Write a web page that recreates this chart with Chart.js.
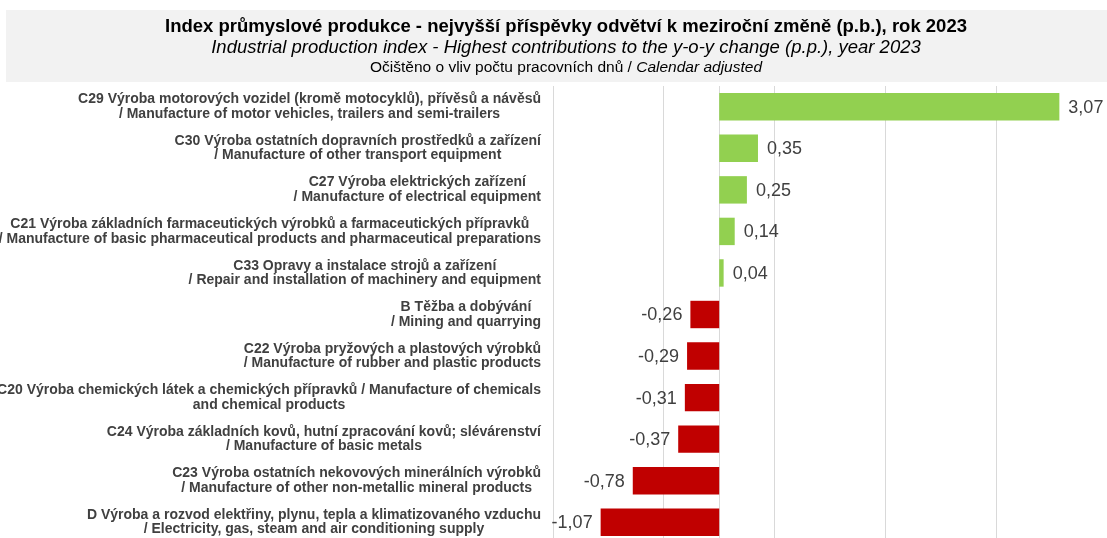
<!DOCTYPE html>
<html>
<head>
<meta charset="utf-8">
<script src="https://cdn.jsdelivr.net/npm/chart.js@4"></script>
<style>
  html, body { margin: 0; padding: 0; background: #fff; overflow: hidden; }
  canvas { display: block; }
</style>
</head>
<body>
<canvas id="myChart" width="1107" height="543"></canvas>
<script>
// categories (two text lines each), top to bottom
const categories = [
  ["C29 Výroba motorových vozidel (kromě motocyklů), přívěsů a návěsů", "/ Manufacture of motor vehicles, trailers and semi-trailers"],
  ["C30 Výroba ostatních dopravních prostředků a zařízení", "/ Manufacture of other transport equipment"],
  ["C27 Výroba elektrických zařízení", "/ Manufacture of electrical equipment"],
  ["C21 Výroba základních farmaceutických výrobků a farmaceutických přípravků", "/ Manufacture of basic pharmaceutical products and pharmaceutical preparations"],
  ["C33 Opravy a instalace strojů a zařízení", "/ Repair and installation of machinery and equipment"],
  ["B Těžba a dobývání", "/ Mining and quarrying"],
  ["C22 Výroba pryžových a plastových výrobků", "/ Manufacture of rubber and plastic products"],
  ["C20 Výroba chemických látek a chemických přípravků / Manufacture of chemicals", "and chemical products"],
  ["C24 Výroba základních kovů, hutní zpracování kovů; slévárenství", "/ Manufacture of basic metals"],
  ["C23 Výroba ostatních nekovových minerálních výrobků", "/ Manufacture of other non-metallic mineral products"],
  ["D Výroba a rozvod elektřiny, plynu, tepla a klimatizovaného vzduchu", "/ Electricity, gas, steam and air conditioning supply"]
]
const values = [3.07, 0.35, 0.25, 0.14, 0.04, -0.26, -0.29, -0.31, -0.37, -0.78, -1.07]
const gridTicks = [-1.5, -0.5, 0.5, 1.5, 2.5, 3.5]

const titleCz = "Index průmyslové produkce - nejvyšší příspěvky odvětví k meziroční změně (p.b.), rok 2023"
const titleEn = "Industrial production index - Highest contributions to the y-o-y change (p.p.), year 2023"
const noteCz = "Očištěno o vliv počtu pracovních dnů / "
const noteEn = "Calendar adjusted"

const FONT = '"Liberation Sans", Arial, sans-serif'
const fmt = v => v.toFixed(2).replace('.', ',')

// grey title box with 3 lines
const titleBox = {
  id: 'titleBox',
  beforeDraw(chart) {
    const ctx = chart.ctx
    const cx = 566
    ctx.save()
    ctx.fillStyle = '#f2f2f2'
    ctx.fillRect(6, 10, chart.width, 72)
    ctx.fillStyle = '#000'
    ctx.textAlign = 'center'
    ctx.textBaseline = 'middle'
    ctx.font = 'bold 18.5px ' + FONT
    ctx.fillText(titleCz, cx, 27)
    ctx.font = 'italic 18.5px ' + FONT
    ctx.fillText(titleEn, cx, 48)
    ctx.font = '15.5px ' + FONT
    const w1 = ctx.measureText(noteCz).width
    ctx.font = 'italic 15.5px ' + FONT
    const w2 = ctx.measureText(noteEn).width
    let x0 = cx - (w1 + w2) / 2
    ctx.textAlign = 'left'
    ctx.font = '15.5px ' + FONT
    ctx.fillText(noteCz, x0, 68)
    ctx.font = 'italic 15.5px ' + FONT
    ctx.fillText(noteEn, x0 + w1, 68)
    ctx.restore()
  }
}

// zero line behind the bars
const zeroLine = {
  id: 'zeroLine',
  beforeDatasetsDraw(chart) {
    const ctx = chart.ctx
    const x = Math.round(chart.scales.x.getPixelForValue(0)) + 0.5
    ctx.save()
    ctx.strokeStyle = '#d9d9d9'
    ctx.lineWidth = 1
    ctx.beginPath()
    ctx.moveTo(x, chart.chartArea.top)
    ctx.lineTo(x, chart.chartArea.bottom)
    ctx.stroke()
    ctx.restore()
  }
}

// category labels: each block centred on itself, block right-aligned to axis
const catLabels = {
  id: 'catLabels',
  afterDraw(chart) {
    const ctx = chart.ctx
    const ys = chart.scales.y
    ctx.save()
    ctx.font = 'bold 14px ' + FONT
    ctx.fillStyle = '#404040'
    ctx.textAlign = 'center'
    ctx.textBaseline = 'middle'
    for (let i = 0; i < categories.length; i++) {
      const lines = categories[i]
      const blockW = Math.max(...lines.map(l => ctx.measureText(l).width))
      const cx = ys.right - 12 - blockW / 2
      const y = ys.getPixelForValue(i)
      ctx.fillText(lines[0], cx, y - 7.3)
      ctx.fillText(lines[1], cx, y + 7.3)
    }
    ctx.restore()
  }
}

// value labels next to the bar ends
const valueLabels = {
  id: 'valueLabels',
  afterDatasetsDraw(chart) {
    const ctx = chart.ctx
    const meta = chart.getDatasetMeta(0)
    ctx.save()
    ctx.font = '18px ' + FONT
    ctx.fillStyle = '#404040'
    ctx.textBaseline = 'middle'
    meta.data.forEach((bar, i) => {
      const v = values[i]
      if (v >= 0) {
        ctx.textAlign = 'left'
        ctx.fillText(fmt(v), bar.x + 9, bar.y + 1)
      } else {
        ctx.textAlign = 'right'
        ctx.fillText(fmt(v), bar.x - 8, bar.y + 1)
      }
    })
    ctx.restore()
  }
}

new Chart(document.getElementById('myChart'), {
  type: 'bar',
  data: {
    labels: categories,
    datasets: [{
      data: values,
      backgroundColor: values.map(v => v >= 0 ? '#92d050' : '#c00000'),
      barPercentage: 0.66,
      categoryPercentage: 1
    }]
  },
  options: {
    indexAxis: 'y',
    responsive: false,
    animation: false,
    layout: { padding: { top: 86, right: 0, bottom: 0, left: 0 } },
    plugins: {
      legend: { display: false },
      tooltip: { enabled: false },
      title: { display: false }
    },
    scales: {
      x: {
        min: -1.5,
        max: 3.5,
        afterBuildTicks: s => { s.ticks = gridTicks.map(v => ({ value: v })) },
        ticks: { display: false },
        grid: { color: '#d9d9d9', drawTicks: false },
        border: { display: false }
      },
      y: {
        ticks: { display: false },
        grid: { display: false },
        border: { display: false },
        afterFit: s => { s.width = 553 }
      }
    }
  },
  plugins: [titleBox, zeroLine, catLabels, valueLabels]
})
</script>
</body>
</html>
